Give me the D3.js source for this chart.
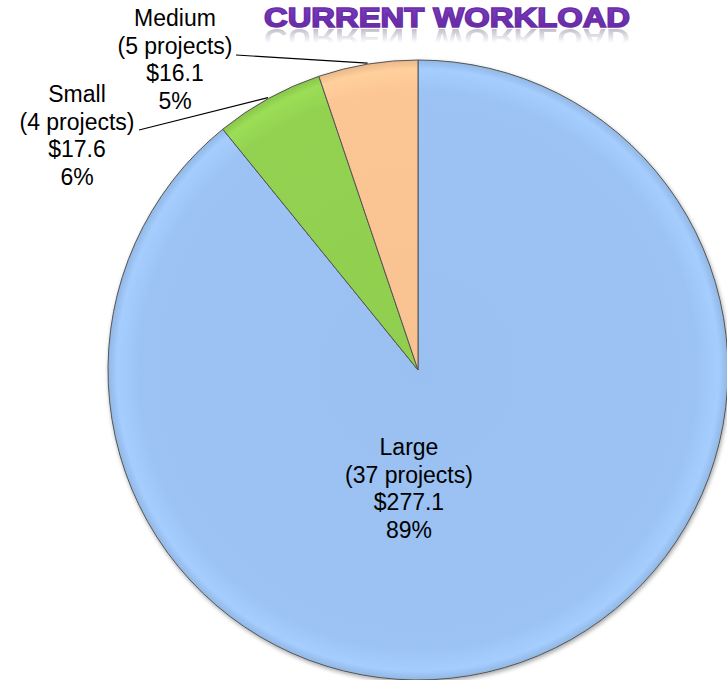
<!DOCTYPE html>
<html>
<head>
<meta charset="utf-8">
<script src="https://cdn.jsdelivr.net/npm/d3@7"></script>
<style>
  body { margin: 0; background: #fff; }
  text { font-family: Arial, "Liberation Sans", sans-serif; }
</style>
</head>
<body>
<div id="chart"></div>
<script>
// slice data, clockwise from 12 o'clock
var categories = ['Large', 'Small', 'Medium'];
var projects = [37, 4, 5];
var amounts = [277.1, 17.6, 16.1];
var percents = ['89%', '6%', '5%'];
var colors = ['#9cc3f4', '#93d251', '#fcc594'];

var width = 727, height = 680;
var cx = 418, cy = 370, radius = 310;

var svg = d3.select('#chart').append('svg')
  .attr('width', width)
  .attr('height', height);

var defs = svg.append('defs');

// slight bevel: lighter rim, darker just inside the edge
colors.forEach(function(c, i) {
  var g = defs.append('radialGradient')
    .attr('id', 'grad' + i)
    .attr('gradientUnits', 'userSpaceOnUse')
    .attr('cx', 0).attr('cy', 0).attr('r', radius);
  g.append('stop').attr('offset', '0%').attr('stop-color', d3.color(c).darker(0.05));
  g.append('stop').attr('offset', '90%').attr('stop-color', c);
  g.append('stop').attr('offset', '97%').attr('stop-color', d3.color(c).brighter(0.15));
  g.append('stop').attr('offset', '100%').attr('stop-color', d3.color(c).darker(0.2));
});

var shadow = defs.append('filter').attr('id', 'shadow')
  .attr('x', '-10%').attr('y', '-10%').attr('width', '120%').attr('height', '120%');
shadow.append('feGaussianBlur').attr('in', 'SourceAlpha').attr('stdDeviation', 2);
shadow.append('feOffset').attr('dx', 1).attr('dy', 2).attr('result', 'blur');
shadow.append('feComponentTransfer').append('feFuncA').attr('type', 'linear').attr('slope', 0.35);
var merge = shadow.append('feMerge');
merge.append('feMergeNode');
merge.append('feMergeNode').attr('in', 'SourceGraphic');

var titleGrad = defs.append('linearGradient').attr('id', 'titleGrad')
  .attr('x1', 0).attr('y1', 0).attr('x2', 0).attr('y2', 1);
titleGrad.append('stop').attr('offset', '0%').attr('stop-color', '#8440cc');
titleGrad.append('stop').attr('offset', '100%').attr('stop-color', '#5e2596');

var reflGrad = defs.append('linearGradient').attr('id', 'reflGrad')
  .attr('x1', 0).attr('y1', 0).attr('x2', 0).attr('y2', 1);
reflGrad.append('stop').attr('offset', '0%').attr('stop-color', '#fff').attr('stop-opacity', 0.5);
reflGrad.append('stop').attr('offset', '70%').attr('stop-color', '#fff').attr('stop-opacity', 0);
var reflMask = defs.append('mask').attr('id', 'reflMask')
  .attr('maskUnits', 'userSpaceOnUse')
  .attr('x', 250).attr('y', 28).attr('width', 400).attr('height', 30);
reflMask.append('rect').attr('x', 250).attr('y', 29).attr('width', 400).attr('height', 20)
  .attr('fill', 'url(#reflGrad)');

var pie = d3.pie().sort(null).value(function(d) { return d; });
var arcs = pie(amounts);
var arc = d3.arc().innerRadius(0).outerRadius(radius);

var g = svg.append('g').attr('transform', 'translate(' + cx + ',' + cy + ')');

g.append('g').attr('filter', 'url(#shadow)')
  .selectAll('path')
  .data(arcs)
  .enter()
  .append('path')
  .attr('d', arc)
  .attr('fill', function(d, i) { return 'url(#grad' + i + ')'; })
  .style('stroke', '#555')
  .style('stroke-width', 1);

// labels (baseline of first line, 27.5px leading)
var lineH = 27.5;
var labelPos = {
  Large: [409, 455],
  Small: [77, 102],
  Medium: [175, 26]
};

categories.forEach(function(name, i) {
  var lines = [name, '(' + projects[i] + ' projects)', '$' + amounts[i].toFixed(1), percents[i]];
  var p = labelPos[name];
  var t = svg.append('text')
    .attr('text-anchor', 'middle')
    .attr('font-size', 23)
    .attr('fill', '#000');
  lines.forEach(function(l, k) {
    t.append('tspan')
      .attr('x', p[0])
      .attr('y', p[1] + k * lineH)
      .text(l);
  });
});

// leader lines for the small slices
var leaders = [
  { i: 2, from: [236, 55] },
  { i: 1, from: [139, 130] }
];
leaders.forEach(function(l) {
  var a = arcs[l.i];
  var mid = (a.startAngle + a.endAngle) / 2;
  var ex = cx + Math.sin(mid) * (radius + 1);
  var ey = cy - Math.cos(mid) * (radius + 1);
  svg.append('line')
    .attr('x1', l.from[0]).attr('y1', l.from[1])
    .attr('x2', ex).attr('y2', ey)
    .style('stroke', '#000')
    .style('stroke-width', 1.2);
});

// title with faint reflection
var title = 'CURRENT WORKLOAD';
svg.append('text')
  .attr('x', 264).attr('y', 27)
  .attr('textLength', 366)
  .attr('lengthAdjust', 'spacingAndGlyphs')
  .attr('font-size', 28)
  .attr('font-weight', 'bold')
  .attr('fill', 'url(#titleGrad)')
  .style('stroke', '#6a2fa8')
  .style('stroke-width', 1.6)
  .text(title);

svg.append('g').attr('mask', 'url(#reflMask)')
  .append('text')
  .attr('transform', 'translate(0,56) scale(1,-1)')
  .attr('x', 264).attr('y', 27)
  .attr('textLength', 366)
  .attr('lengthAdjust', 'spacingAndGlyphs')
  .attr('font-size', 28)
  .attr('font-weight', 'bold')
  .attr('fill', '#8a7a9a')
  .text(title);
</script>
</body>
</html>
